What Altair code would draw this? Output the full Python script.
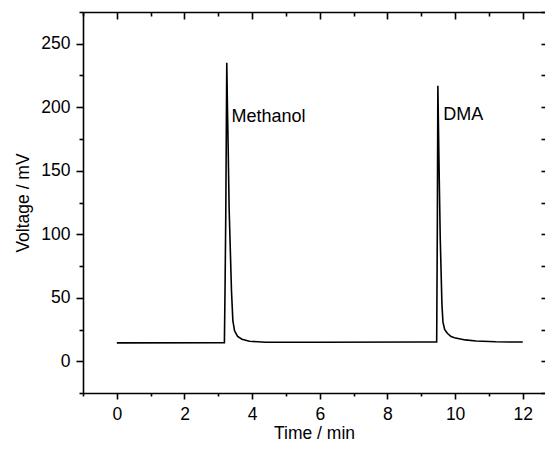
import altair as alt
import pandas as pd

# Chromatogram trace (time in min, voltage in mV)
time_min = [0.0, 3.18, 3.20, 3.22, 3.25, 3.27, 3.29, 3.32, 3.35, 3.39, 3.43, 3.48,
            3.57, 3.70, 3.92, 4.40, 6.00, 9.00, 9.455, 9.475, 9.49, 9.52, 9.56,
            9.61, 9.64, 9.69, 9.77, 9.88, 9.98, 10.30, 10.62, 11.20, 12.0]
voltage_mv = [14.5, 14.6, 60, 114, 235, 200, 170, 120, 92, 55, 32, 24,
              19.5, 17.3, 15.8, 15.0, 15.0, 15.1, 15.1, 110, 217, 162, 97,
              45, 31, 25, 22, 19.5, 18.5, 16.8, 15.9, 15.3, 15.1]

# Peak labels
labels = ["Methanol", "DMA"]
label_x = [3.39, 9.65]
label_y = [192, 194]

# Axis ticks
x_ticks = [-1, 0, 1, 2, 3, 4, 5, 6, 7, 8, 9, 10, 11, 12]
y_ticks = [-25, 0, 25, 50, 75, 100, 125, 150, 175, 200, 225, 250, 275]

FONT = "Liberation Sans"
W, H = 462, 381

trace = pd.DataFrame({"t": time_min, "v": voltage_mv})
lab = pd.DataFrame({"label": labels, "t": label_x, "v": label_y})

x_scale = alt.Scale(domain=[-1, 12.657], nice=False, zero=False)
y_scale = alt.Scale(domain=[-25, 275], nice=False, zero=False)

x_major = "datum.value % 2 === 0"
y_major = "datum.value % 50 === 0"

line = alt.Chart(trace).mark_line(color="black", strokeWidth=1.6).encode(
    x=alt.X("t:Q", scale=x_scale,
            axis=alt.Axis(orient="bottom", values=x_ticks, title="Time / min",
                          tickSize={"condition": {"test": x_major, "value": 6}, "value": 3},
                          labelExpr=f"{x_major} ? datum.label : ''",
                          labelPadding=6, titlePadding=2, grid=False)),
    y=alt.Y("v:Q", scale=y_scale,
            axis=alt.Axis(orient="left", values=y_ticks, title="Voltage / mV",
                          tickSize={"condition": {"test": y_major, "value": 7}, "value": 4},
                          labelExpr=f"{y_major} ? datum.label : ''",
                          labelPadding=6, titlePadding=8, grid=False)),
)

text = alt.Chart(lab).mark_text(
    align="left", baseline="middle", fontSize=18, font=FONT, color="black"
).encode(
    x=alt.X("t:Q", scale=x_scale,
            axis=alt.Axis(orient="bottom", offset=-H, values=x_ticks, title=None,
                          labels=False,
                          tickSize={"condition": {"test": x_major, "value": 7}, "value": 4},
                          grid=False)),
    y=alt.Y("v:Q", scale=y_scale,
            axis=alt.Axis(orient="left", offset=-W, values=y_ticks, title=None,
                          labels=False, domain=False, tickSize=4, grid=False)),
    text="label:N",
)

chart = alt.layer(line, text).resolve_axis(x="independent", y="independent").properties(
    width=W, height=H,
    autosize=alt.AutoSizeParams(type="none"),
    padding={"left": 75, "top": 4, "right": 0, "bottom": 52},
    background="white",
).configure_view(strokeWidth=0).configure_axis(
    labelFont=FONT, titleFont=FONT, labelFontSize=17.5, titleFontSize=17.5,
    titleFontWeight="normal", labelColor="black", titleColor="black",
    domainColor="black", tickColor="black", domainWidth=1.6, tickWidth=1.6,
)

chart.save("out.html", embed_options={"renderer": "svg", "actions": False})
